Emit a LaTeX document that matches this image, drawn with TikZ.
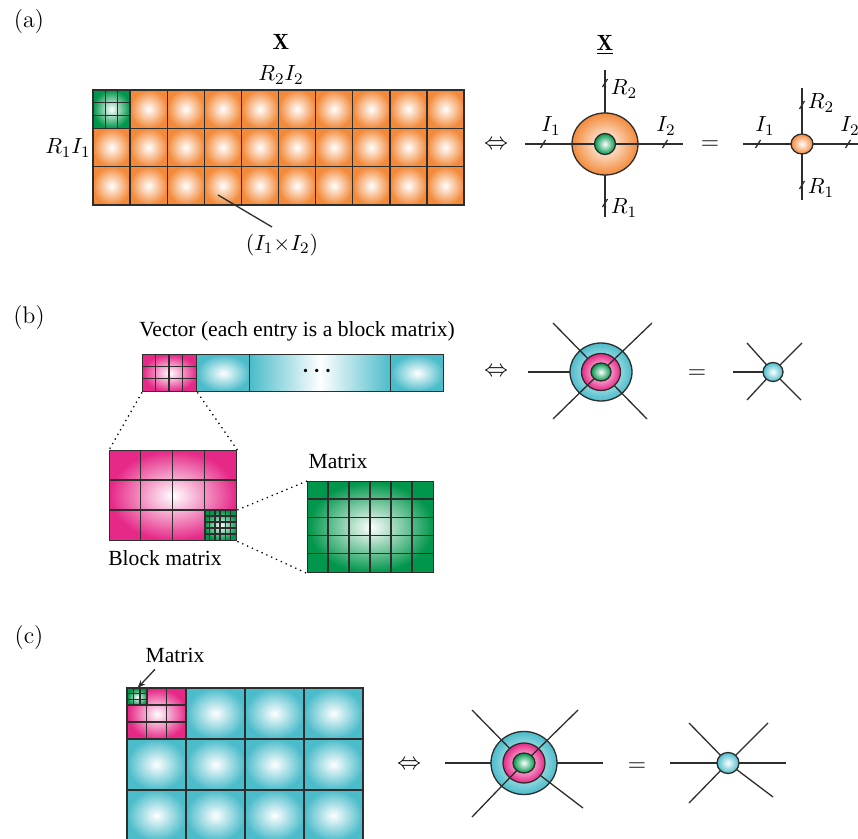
\documentclass[tikz,border=0pt]{standalone}
\usepackage{amsmath}
\usepackage{fontspec}
\newfontfamily\tms{Liberation Serif}
\usetikzlibrary{
	arrows.meta,
	calc,
	shapes.geometric,
	positioning
}
\definecolor{BlkOrange}{RGB}{243,138,58}
\definecolor{BlkGreen}{RGB}{0,150,75}
\definecolor{BlkPink}{RGB}{230,40,135}
\definecolor{BlkCyan}{RGB}{75,188,202}
\definecolor{GridLine}{RGB}{45,45,45}

\tikzset{
	gridline/.style={draw=GridLine, line width=0.7pt},
	leg/.style={draw=GridLine, line width=0.65pt},
	ring/.style={ellipse, draw=GridLine, line width=0.65pt, inner sep=0pt},
	blockbox/.style={rectangle, draw=GridLine, line width=0.7pt, inner sep=0pt, anchor=north west},
	zoomline/.style={dotted, line width=0.65pt},
	txtlabel/.style={font=\tms\fontsize{10.8}{12}\selectfont},
	bigsym/.style={font=\fontsize{13}{15}\selectfont}
}
\newcommand{\legtick}[1]{\draw[leg] ([shift={(-2.5,4)}]#1) -- ([shift={(2.5,-4)}]#1);}

\begin{document}
\begin{tikzpicture}[x=0.5pt, y=-0.5pt, font=\fontsize{11}{13}\selectfont]
	\useasboundingbox (0,0) rectangle (858,839);
	
	% (a)
	\node[font=\fontsize{12}{14}\selectfont] (lbla) at (29,22) {(a)};
	\node (titX) at (281,42) {$\mathbf{X}$};
	\node (colX) at (281,75) {$R_2I_2$};
	\node[left, inner sep=1pt] (rowX) at (93,148) {$R_1I_1$};
	\foreach \i in {0,...,9}
		\foreach \j in {0,1,2}
			\shade[inner color=white, outer color=BlkOrange] (93+\i*37.1,90+\j*38.33) rectangle ++(37.1,38.33);
	\shade[inner color=white, outer color=BlkGreen] (93,90) rectangle ++(37.1,38.33);
	\foreach \k in {1,2} {
		\draw[gridline] (93+\k*12.37,90) -- ++(0,38.33);
		\draw[gridline] (93,90+\k*12.78) -- ++(37.1,0);
	}
	\foreach \i in {1,...,9} \draw[gridline] (93+\i*37.1,90) -- (93+\i*37.1,205);
	\foreach \j in {1,2} \draw[gridline] (93,90+\j*38.33) -- (464,90+\j*38.33);
	\draw[gridline] (93,90) rectangle (464,205);
	\node (cellsize) at (282,245) {$(I_1{\times}I_2)$};
	\coordinate (cellpt) at (218,195);
	\draw[leg] (cellpt) -- ([xshift=-5pt]cellsize.north);
	
	\node[bigsym] (eqva) at (496,145) {$\Leftrightarrow$};
	\node (titXu) at (605,45) {$\underline{\mathbf{X}}$};
	\coordinate (ca) at (605,144);
	\coordinate (a-l) at (525,144);
	\coordinate (a-r) at (683,144);
	\coordinate (a-t) at (605,70);
	\coordinate (a-b) at (605,217);
	\draw[leg] (ca) -- (a-t);
	\draw[leg] (ca) -- (a-b);
	\node[ring, inner color=white, outer color=BlkOrange, minimum width=33pt, minimum height=31pt] (ringa) at (ca) {};
	\draw[leg] (a-l) -- (ca) -- (a-r);
	\node[ring, inner color=white, outer color=BlkGreen, minimum size=10.5pt] (corea) at (ca) {};
	\legtick{543,144} \legtick{665,144} \legtick{605,83} \legtick{605,203}
	\node (a-i1) at (551,126) {$I_1$};
	\node (a-i2) at (666,126) {$I_2$};
	\node (a-r2) at (624,89) {$R_2$};
	\node (a-r1) at (624,208) {$R_1$};
	
	\node[bigsym] (eqa) at (710,145) {$=$};
	\coordinate (na) at (802,144);
	\coordinate (na-l) at (743,144);
	\coordinate (na-r) at (858,144);
	\coordinate (na-t) at (802,88);
	\coordinate (na-b) at (802,200);
	\draw[leg] (na-l) -- (na) -- (na-r);
	\draw[leg] (na-t) -- (na) -- (na-b);
	\node[ring, inner color=white, outer color=BlkOrange, minimum width=11pt, minimum height=10pt] (nodea) at (na) {};
	\legtick{758,144} \legtick{848,144} \legtick{802,105} \legtick{802,185}
	\node (na-i1) at (765,126) {$I_1$};
	\node (na-i2) at (850,126) {$I_2$};
	\node (na-r2) at (821,103) {$R_2$};
	\node (na-r1) at (821,188) {$R_1$};
	
	% (b)
	\node[font=\fontsize{12}{14}\selectfont] (lblb) at (29,318) {(b)};
	\node[txtlabel] (veccap) at (297,331) {Vector (each entry is a block matrix)};
	\node[blockbox, inner color=white, outer color=BlkPink, minimum width=27pt, minimum height=18.5pt] (vpink) at (142,354) {};
	\foreach \i in {1,2,3} \draw[gridline] (142+\i*13.5,354) -- ++(0,37);
	\foreach \j in {1,2} \draw[gridline] (142,354+\j*12.33) -- ++(54,0);
	\node[blockbox, inner color=white, outer color=BlkCyan, minimum width=26.5pt, minimum height=18.5pt] (vcyan1) at (196,354) {};
	\node[blockbox, left color=BlkCyan, right color=BlkCyan, middle color=white, minimum width=70.5pt, minimum height=18.5pt] (vdotsbox) at (249,354) {};
	\node[blockbox, inner color=white, outer color=BlkCyan, minimum width=26.5pt, minimum height=18.5pt] (vcyan2) at (390,354) {};
	\node (vdots) at (319,371) {$\boldsymbol{\cdots}$};
	
	\node[blockbox, inner color=white, outer color=BlkPink, minimum width=63.5pt, minimum height=45pt] (bmat) at (109,450) {};
	\node[blockbox, inner color=white, outer color=BlkGreen, minimum width=15.875pt, minimum height=15pt] (bsub) at (204.25,510) {};
	\foreach \i in {1,...,5} \draw[gridline] (204.25+\i*5.29,510) -- ++(0,30);
	\foreach \j in {1,...,4} \draw[gridline] (204.25,510+\j*6) -- ++(31.75,0);
	\foreach \i in {1,2,3} \draw[gridline] (109+\i*31.75,450) -- ++(0,90);
	\foreach \j in {1,2} \draw[gridline] (109,450+\j*30) -- ++(127,0);
	\node[txtlabel] (bmatcap) at (165,558) {Block matrix};
	\draw[zoomline] (vpink.south west) -- (bmat.north west);
	\draw[zoomline] (vpink.south east) -- (bmat.north east);
	
	\node[blockbox, inner color=white, outer color=BlkGreen, minimum width=63pt, minimum height=45.5pt] (gmat) at (307,481) {};
	\foreach \i in {1,...,5} \draw[gridline] (307+\i*21,481) -- ++(0,91);
	\foreach \j in {1,...,4} \draw[gridline] (307,481+\j*18.2) -- ++(126,0);
	\node[txtlabel] (gmatcap) at (338,461) {Matrix};
	\draw[zoomline] (bsub.north east) -- (gmat.north west);
	\draw[zoomline] (bsub.south east) -- (gmat.south west);
	
	\node[bigsym] (eqvb) at (496,372) {$\Leftrightarrow$};
	\coordinate (cb) at (601,372);
	\coordinate (b-w) at (528,372);
	\coordinate (b-nw) at (553,323);
	\coordinate (b-ne) at (652,323);
	\coordinate (b-sw) at (553,419);
	\coordinate (b-se) at (647,419);
	\draw[leg] (cb) -- (b-w);
	\node[ring, inner color=white, outer color=BlkCyan, minimum width=31pt, minimum height=29pt] (ringb) at (cb) {};
	\draw[leg] (cb) -- (b-nw);
	\draw[leg] (cb) -- (b-se);
	\node[ring, inner color=white, outer color=BlkPink, minimum width=19.5pt, minimum height=18.5pt] (midb) at (cb) {};
	\draw[leg] (cb) -- (b-ne);
	\draw[leg] (cb) -- (b-sw);
	\node[ring, inner color=white, outer color=BlkGreen, minimum width=10pt, minimum height=9pt] (coreb) at (cb) {};
	
	\node[bigsym] (eqb) at (697,374) {$=$};
	\coordinate (nb) at (773,372);
	\coordinate (nb-w) at (733,372);
	\coordinate (nb-nw) at (747,343);
	\coordinate (nb-ne) at (802,343);
	\coordinate (nb-sw) at (747,400);
	\coordinate (nb-se) at (801,400);
	\foreach \e in {nb-w,nb-nw,nb-ne,nb-sw,nb-se} \draw[leg] (nb) -- (\e);
	\node[ring, inner color=white, outer color=BlkCyan, minimum width=10pt, minimum height=9.5pt] (nodeb) at (nb) {};
	
	% (c)
	\node[font=\fontsize{12}{14}\selectfont] (lblc) at (29,638) {(c)};
	\foreach \i in {0,...,3}
		\foreach \j in {0,1,2}
			\shade[inner color=white, outer color=BlkCyan] (127+\i*59,688+\j*51) rectangle ++(59,51);
	\node[blockbox, inner color=white, outer color=BlkPink, minimum width=29.5pt, minimum height=25.5pt] (cpink) at (127,688) {};
	\node[blockbox, inner color=white, outer color=BlkGreen, minimum width=9.83pt, minimum height=8.5pt] (cgreen) at (127,688) {};
	\foreach \k in {1,2} {
		\draw[gridline] (127+\k*19.67,688) -- ++(0,51);
		\draw[gridline] (127,688+\k*17) -- ++(59,0);
		\draw[gridline] (127+\k*6.56,688) -- ++(0,17);
		\draw[gridline] (127,688+\k*5.67) -- ++(19.67,0);
	}
	\foreach \i in {1,2,3} \draw[gridline] (127+\i*59,688) -- ++(0,153);
	\foreach \j in {1,2} \draw[gridline] (127,688+\j*51) -- ++(236,0);
	\draw[gridline] (127,688) rectangle (363,841);
	\node[txtlabel] (matcap) at (175,655) {Matrix};
	\draw[leg, -{Stealth[length=4pt, width=3pt]}] ([xshift=-10pt]matcap.south) -- (cgreen.north);
	
	\node[bigsym] (eqvc) at (409,765) {$\Leftrightarrow$};
	\coordinate (cc) at (524,763);
	\coordinate (c-w) at (445,763);
	\coordinate (c-e) at (603,763);
	\coordinate (c-nw) at (472,710);
	\coordinate (c-ne) at (578,710);
	\coordinate (c-sw) at (472,817);
	\coordinate (c-se) at (583,808);
	\draw[leg] (c-w) -- (cc) -- (c-e);
	\node[ring, inner color=white, outer color=BlkCyan, minimum width=33pt, minimum height=31.5pt] (ringc) at (cc) {};
	\draw[leg] (cc) -- (c-nw);
	\draw[leg] (cc) -- (c-se);
	\node[ring, inner color=white, outer color=BlkPink, minimum width=21pt, minimum height=20pt] (midc) at (cc) {};
	\draw[leg] (cc) -- (c-ne);
	\draw[leg] (cc) -- (c-sw);
	\node[ring, inner color=white, outer color=BlkGreen, minimum width=11pt, minimum height=10pt] (corec) at (cc) {};
	
	\node[bigsym] (eqc) at (637,767) {$=$};
	\coordinate (nc) at (728,763);
	\coordinate (nc-w) at (670,763);
	\coordinate (nc-e) at (786,763);
	\coordinate (nc-nw) at (689,723);
	\coordinate (nc-ne) at (768,723);
	\coordinate (nc-sw) at (689,803);
	\coordinate (nc-se) at (773,797);
	\foreach \e in {nc-w,nc-e,nc-nw,nc-ne,nc-sw,nc-se} \draw[leg] (nc) -- (\e);
	\node[ring, inner color=white, outer color=BlkCyan, minimum width=11pt, minimum height=10.5pt] (nodec) at (nc) {};
\end{tikzpicture}
\end{document}
